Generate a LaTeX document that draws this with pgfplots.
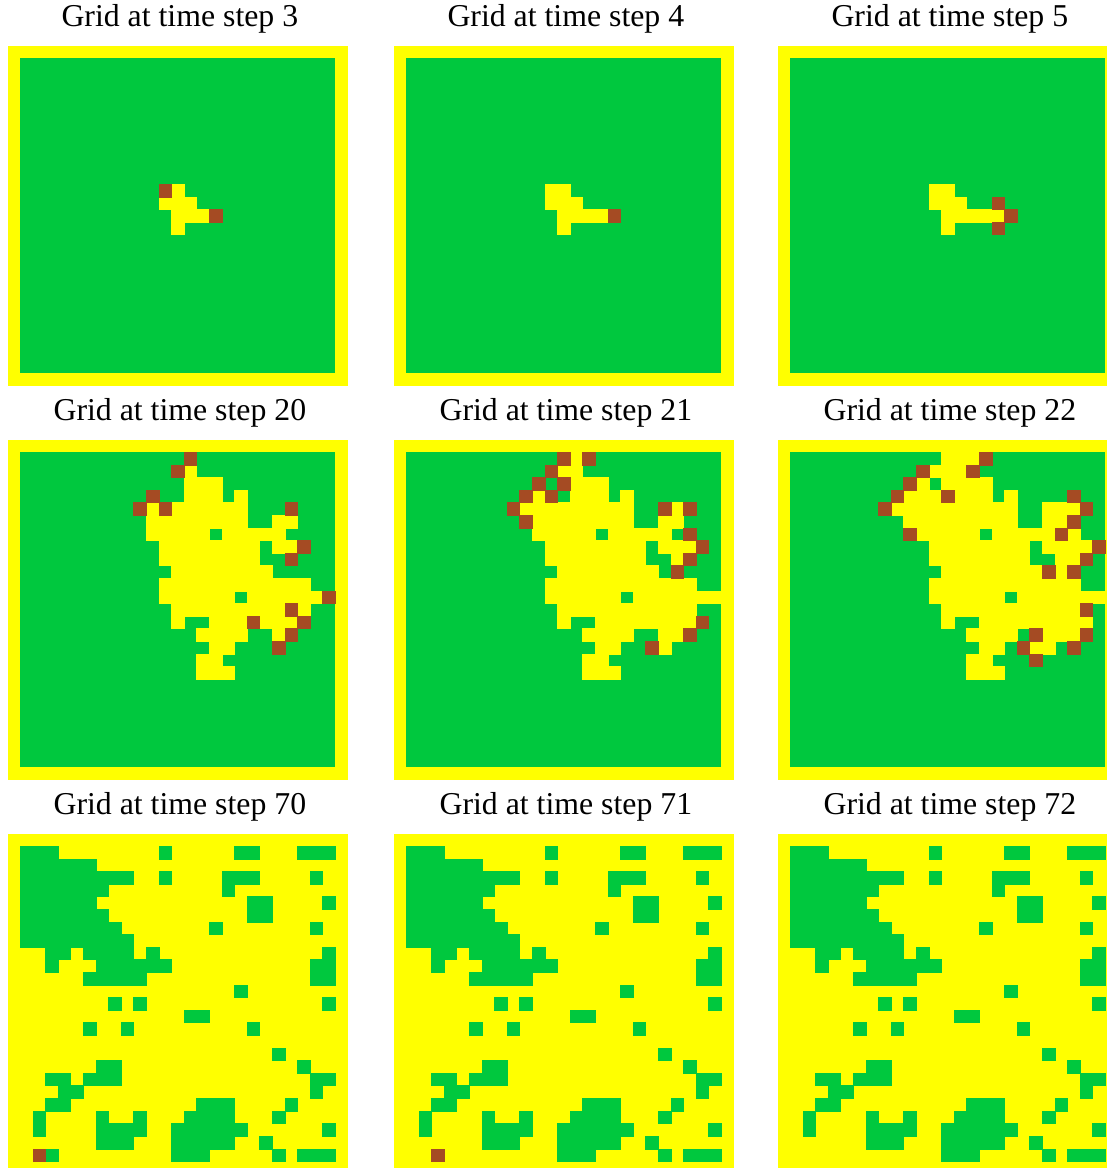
\documentclass[border=0pt]{standalone}
\usepackage{pgfplots}
\pgfplotsset{compat=1.18}
\usepackage{pgfplotstable}
\usepackage{fontspec}
\setmainfont{Liberation Serif}
\definecolor{fgreen}{RGB}{0,200,62}
\definecolor{fyellow}{RGB}{255,255,0}
\definecolor{fbrown}{RGB}{165,75,35}

\pgfplotsset{
 gridpanel/.style={
  scale only axis, width=170.15pt, height=170.15pt,
  xmin=-0.5,xmax=26.5,ymin=-0.5,ymax=26.5, y dir=reverse,
  enlargelimits=false, hide axis, anchor=north west, clip=false,
  title style={at={(0.5,1)}, anchor=base, yshift=3.85pt, xshift=1pt,
    font=\fontsize{15.9pt}{18pt}\selectfont},
 },
 cells/.style={only marks, mark=square*, mark size=3.151pt,
   mark options={line width=0.3pt}, color=#1},
}
\newcommand\bgfull{\addplot[fill=fyellow, draw=none] coordinates {(-0.5,-0.5) (26.5,-0.5) (26.5,26.5) (-0.5,26.5)} -- cycle;}
\newcommand\bggreen{\addplot[fill=fgreen, draw=none] coordinates {(0.5,0.5) (25.5,0.5) (25.5,25.5) (0.5,25.5)} -- cycle;}

% green cells shared by time steps 70, 71, 72 (column, row)
\pgfplotstableread{
x y
1 1
2 1
3 1
12 1
18 1
19 1
23 1
24 1
25 1
1 2
2 2
3 2
4 2
5 2
6 2
1 3
2 3
3 3
4 3
5 3
6 3
7 3
8 3
9 3
12 3
17 3
18 3
19 3
24 3
1 4
2 4
3 4
4 4
5 4
6 4
7 4
17 4
1 5
2 5
3 5
4 5
5 5
6 5
19 5
20 5
25 5
1 6
2 6
3 6
4 6
5 6
6 6
7 6
19 6
20 6
1 7
2 7
3 7
4 7
5 7
6 7
7 7
8 7
16 7
24 7
1 8
2 8
3 8
4 8
5 8
6 8
7 8
8 8
9 8
3 9
4 9
6 9
7 9
8 9
9 9
11 9
25 9
3 10
7 10
8 10
9 10
10 10
11 10
12 10
24 10
25 10
6 11
7 11
8 11
9 11
10 11
24 11
25 11
18 12
8 13
10 13
25 13
14 14
15 14
6 15
9 15
19 15
21 17
7 18
8 18
23 18
3 19
4 19
6 19
7 19
8 19
24 19
25 19
4 20
5 20
24 20
3 21
4 21
15 21
16 21
17 21
22 21
2 22
7 22
10 22
14 22
15 22
16 22
17 22
21 22
2 23
7 23
8 23
9 23
10 23
13 23
14 23
15 23
16 23
17 23
18 23
25 23
7 24
8 24
9 24
13 24
14 24
15 24
16 24
17 24
20 24
13 25
14 25
15 25
21 25
23 25
24 25
25 25
}\greenlate

\begin{document}
\begin{tikzpicture}
% ---------------- row 1 ----------------
\begin{axis}[gridpanel, at={(3.85pt,-22.85pt)}, title={Grid at time step 3}]
\bgfull \bggreen
\addplot[cells=fyellow] coordinates {(13,11) (12,12) (13,12) (14,12) (13,13) (14,13) (15,13) (13,14)};
\addplot[cells=fbrown] coordinates {(12,11) (16,13)};
\end{axis}
\begin{axis}[gridpanel, at={(196.85pt,-22.85pt)}, title={Grid at time step 4}]
\bgfull \bggreen
\addplot[cells=fyellow] coordinates {(12,11) (13,11) (12,12) (13,12) (14,12) (13,13) (14,13) (15,13) (16,13) (13,14)};
\addplot[cells=fbrown] coordinates {(17,13)};
\end{axis}
\begin{axis}[gridpanel, at={(388.85pt,-22.85pt)}, title={Grid at time step 5}]
\bgfull \bggreen
\addplot[cells=fyellow] coordinates {(12,11) (13,11) (12,12) (13,12) (14,12) (13,13) (14,13) (15,13) (16,13) (17,13) (13,14)};
\addplot[cells=fbrown] coordinates {(17,12) (18,13) (17,14)};
\end{axis}
% ---------------- row 2 ----------------
\begin{axis}[gridpanel, at={(3.85pt,-219.85pt)}, title={Grid at time step 20}]
\bgfull \bggreen
\addplot[cells=fyellow] coordinates {
(14,2)
(14,3)(15,3)(16,3)
(14,4)(15,4)(16,4)(18,4)
(11,5)(13,5)(14,5)(15,5)(16,5)(17,5)(18,5)
(11,6)(12,6)(13,6)(14,6)(15,6)(16,6)(17,6)(18,6)(21,6)(22,6)
(11,7)(12,7)(13,7)(14,7)(15,7)(17,7)(18,7)(19,7)(20,7)(21,7)
(12,8)(13,8)(14,8)(15,8)(16,8)(17,8)(18,8)(19,8)(21,8)(22,8)
(12,9)(13,9)(14,9)(15,9)(16,9)(17,9)(18,9)(19,9)
(13,10)(14,10)(15,10)(16,10)(17,10)(18,10)(19,10)(20,10)
(12,11)(13,11)(14,11)(15,11)(16,11)(17,11)(18,11)(19,11)(20,11)(21,11)(22,11)(23,11)
(12,12)(13,12)(14,12)(15,12)(16,12)(17,12)(19,12)(20,12)(21,12)(22,12)(23,12)(24,12)
(13,13)(14,13)(15,13)(16,13)(17,13)(18,13)(19,13)(20,13)(21,13)(23,13)
(13,14)(16,14)(17,14)(18,14)(20,14)(21,14)(22,14)
(15,15)(16,15)(17,15)(18,15)(21,15)
(16,16)(17,16)
(15,17)(16,17)
(15,18)(16,18)(17,18)};
\addplot[cells=fbrown] coordinates {(14,1) (13,2) (11,4) (10,5) (12,5) (22,5) (23,8) (22,9) (25,12) (22,13) (19,14) (23,14) (22,15) (21,16)};
\end{axis}
\begin{axis}[gridpanel, at={(196.85pt,-219.85pt)}, title={Grid at time step 21}]
\bgfull \bggreen
\addplot[cells=fyellow] coordinates {
(14,1)
(13,2)(14,2)
(14,3)(15,3)(16,3)
(11,4)(14,4)(15,4)(16,4)(18,4)
(10,5)(11,5)(12,5)(13,5)(14,5)(15,5)(16,5)(17,5)(18,5)(22,5)
(11,6)(12,6)(13,6)(14,6)(15,6)(16,6)(17,6)(18,6)(21,6)(22,6)
(11,7)(12,7)(13,7)(14,7)(15,7)(17,7)(18,7)(19,7)(20,7)(21,7)
(12,8)(13,8)(14,8)(15,8)(16,8)(17,8)(18,8)(19,8)(21,8)(22,8)(23,8)
(12,9)(13,9)(14,9)(15,9)(16,9)(17,9)(18,9)(19,9)(22,9)
(13,10)(14,10)(15,10)(16,10)(17,10)(18,10)(19,10)(20,10)
(12,11)(13,11)(14,11)(15,11)(16,11)(17,11)(18,11)(19,11)(20,11)(21,11)(22,11)(23,11)
(12,12)(13,12)(14,12)(15,12)(16,12)(17,12)(19,12)(20,12)(21,12)(22,12)(23,12)(24,12)(25,12)
(13,13)(14,13)(15,13)(16,13)(17,13)(18,13)(19,13)(20,13)(21,13)(22,13)(23,13)
(13,14)(16,14)(17,14)(18,14)(19,14)(20,14)(21,14)(22,14)(23,14)
(15,15)(16,15)(17,15)(18,15)(21,15)(22,15)
(16,16)(17,16)(21,16)
(15,17)(16,17)
(15,18)(16,18)(17,18)};
\addplot[cells=fbrown] coordinates {(13,1) (15,1) (12,2) (11,3) (13,3) (10,4) (12,4) (9,5) (21,5) (23,5) (10,6) (23,7) (24,8) (23,9) (22,10) (24,14) (23,15) (20,16)};
\end{axis}
\begin{axis}[gridpanel, at={(388.85pt,-219.85pt)}, title={Grid at time step 22}]
\bgfull \bggreen
\addplot[cells=fyellow] coordinates {
(13,1)(14,1)(15,1)
(12,2)(13,2)(14,2)
(11,3)(13,3)(14,3)(15,3)(16,3)
(10,4)(11,4)(12,4)(14,4)(15,4)(16,4)(18,4)
(9,5)(10,5)(11,5)(12,5)(13,5)(14,5)(15,5)(16,5)(17,5)(18,5)(21,5)(22,5)(23,5)
(10,6)(11,6)(12,6)(13,6)(14,6)(15,6)(16,6)(17,6)(18,6)(21,6)(22,6)
(11,7)(12,7)(13,7)(14,7)(15,7)(17,7)(18,7)(19,7)(20,7)(21,7)(23,7)
(12,8)(13,8)(14,8)(15,8)(16,8)(17,8)(18,8)(19,8)(21,8)(22,8)(23,8)(24,8)
(12,9)(13,9)(14,9)(15,9)(16,9)(17,9)(18,9)(19,9)(22,9)(23,9)
(13,10)(14,10)(15,10)(16,10)(17,10)(18,10)(19,10)(20,10)(22,10)
(12,11)(13,11)(14,11)(15,11)(16,11)(17,11)(18,11)(19,11)(20,11)(21,11)(22,11)(23,11)
(12,12)(13,12)(14,12)(15,12)(16,12)(17,12)(19,12)(20,12)(21,12)(22,12)(23,12)(24,12)(25,12)
(13,13)(14,13)(15,13)(16,13)(17,13)(18,13)(19,13)(20,13)(21,13)(22,13)(23,13)
(13,14)(16,14)(17,14)(18,14)(19,14)(20,14)(21,14)(22,14)(23,14)(24,14)
(15,15)(16,15)(17,15)(18,15)(21,15)(22,15)(23,15)
(16,16)(17,16)(20,16)(21,16)
(15,17)(16,17)
(15,18)(16,18)(17,18)};
\addplot[cells=fbrown] coordinates {(16,1) (11,2) (15,2) (10,3) (9,4) (13,4) (23,4) (8,5) (24,5) (23,6) (10,7) (22,7) (25,8) (24,9) (21,10) (23,10) (24,13) (20,15) (24,15) (19,16) (23,16) (20,17)};
\end{axis}
% ---------------- row 3 ----------------
\begin{axis}[gridpanel, at={(3.85pt,-416.85pt)}, title={Grid at time step 70}]
\bgfull
\addplot[cells=fgreen] table[x=x,y=y] {\greenlate};
\addplot[cells=fgreen] coordinates {(3,25)};
\addplot[cells=fbrown] coordinates {(2,25)};
\end{axis}
\begin{axis}[gridpanel, at={(196.85pt,-416.85pt)}, title={Grid at time step 71}]
\bgfull
\addplot[cells=fgreen] table[x=x,y=y] {\greenlate};
\addplot[cells=fbrown] coordinates {(3,25)};
\end{axis}
\begin{axis}[gridpanel, at={(388.85pt,-416.85pt)}, title={Grid at time step 72}]
\bgfull
\addplot[cells=fgreen] table[x=x,y=y] {\greenlate};
\end{axis}
\pgfresetboundingbox
\useasboundingbox (0,0) rectangle (553.5pt,-584pt);
\end{tikzpicture}
\end{document}
